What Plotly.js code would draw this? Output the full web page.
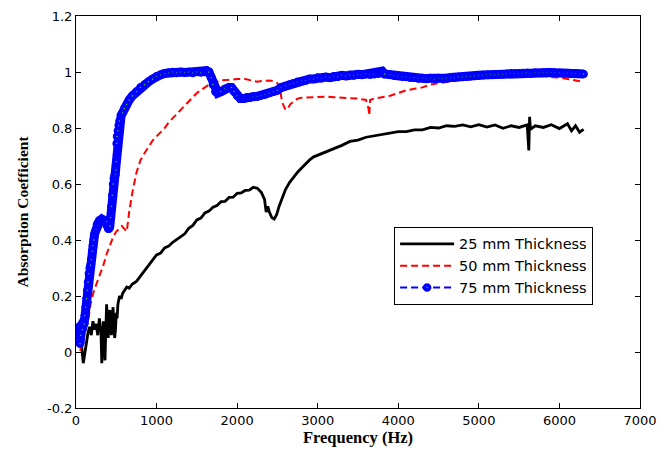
<!DOCTYPE html>
<html>
<head>
<meta charset="utf-8">
<script src="https://cdn.plot.ly/plotly-3.0.1.min.js"></script>
<style>html,body{margin:0;padding:0;background:#fff;}#chart{width:672px;height:452px;}</style>
</head>
<body>
<div id="chart"></div>
<script>
// 25 mm thickness (black, solid)
const freq25 = [50,70,90,110,130,150,170,190,210,230,250,270,290,310,320,330,340,350,360,370,380,390,400,410,420,430,440,450,460,470,480,490,500,510,520,540,560,580,600,630,660,700,750,800,850,900,950,1000,1050,1100,1150,1200,1250,1300,1350,1400,1450,1500,1550,1600,1650,1700,1750,1800,1850,1900,1950,2000,2050,2100,2150,2200,2250,2300,2340,2360,2380,2400,2430,2460,2490,2520,2560,2600,2650,2700,2750,2800,2850,2900,2950,3000,3100,3200,3300,3400,3500,3600,3700,3800,3900,4000,4100,4200,4300,4400,4500,4600,4700,4800,4900,5000,5100,5200,5300,5400,5500,5600,5620,5630,5640,5700,5800,5900,6000,6100,6150,6200,6250,6300];
const abs25 = [0.05,0.02,-0.04,0.0,0.04,0.07,0.09,0.06,0.11,0.08,0.1,0.06,0.12,0.07,-0.04,0.02,0.11,0.03,-0.03,0.08,0.17,0.1,0.05,0.13,0.15,0.09,0.06,0.12,0.16,0.1,0.05,0.08,0.14,0.12,0.17,0.2,0.19,0.21,0.22,0.232,0.228,0.243,0.252,0.272,0.288,0.312,0.328,0.347,0.353,0.372,0.378,0.392,0.402,0.413,0.422,0.442,0.452,0.472,0.478,0.497,0.503,0.517,0.523,0.537,0.538,0.552,0.553,0.567,0.568,0.577,0.578,0.588,0.585,0.57,0.545,0.50,0.52,0.50,0.48,0.475,0.49,0.52,0.55,0.58,0.605,0.625,0.642,0.657,0.672,0.686,0.697,0.703,0.713,0.727,0.738,0.752,0.757,0.767,0.772,0.778,0.782,0.787,0.787,0.793,0.793,0.802,0.80,0.808,0.806,0.811,0.804,0.812,0.803,0.811,0.799,0.808,0.802,0.811,0.72,0.84,0.795,0.808,0.802,0.812,0.798,0.815,0.79,0.808,0.785,0.795];

// 50 mm thickness (red, dashed)
const freq50 = [50,80,110,150,180,214,250,300,340,380,420,460,500,540,570,600,630,660,700,750,800,850,900,950,1000,1050,1100,1150,1200,1250,1300,1350,1400,1450,1500,1550,1600,1650,1700,1750,1800,1900,2000,2100,2200,2250,2300,2400,2450,2500,2530,2560,2600,2630,2660,2700,2750,2800,2900,3000,3100,3200,3300,3400,3500,3600,3630,3640,3650,3700,3800,3900,4000,4100,4200,4300,4400,4500,4600,4700,4800,4900,5000,5200,5400,5600,5800,6000,6100,6200,6300];
const abs50 = [0.005,0.03,0.07,0.11,0.17,0.21,0.24,0.28,0.31,0.35,0.38,0.41,0.43,0.44,0.45,0.44,0.43,0.5,0.57,0.64,0.685,0.71,0.735,0.755,0.77,0.785,0.80,0.82,0.835,0.85,0.865,0.88,0.895,0.91,0.925,0.935,0.945,0.955,0.96,0.965,0.97,0.972,0.975,0.975,0.97,0.965,0.968,0.97,0.968,0.96,0.94,0.89,0.865,0.87,0.885,0.895,0.905,0.908,0.91,0.91,0.912,0.91,0.908,0.905,0.905,0.90,0.87,0.845,0.90,0.905,0.91,0.915,0.925,0.935,0.94,0.945,0.955,0.96,0.965,0.97,0.972,0.975,0.978,0.982,0.985,0.985,0.985,0.98,0.975,0.97,0.965];

// 75 mm thickness (blue, dashed with circle markers)
const freq75 = [40,50,60,70,80,90,100,110,120,130,140,150,160,170,180,190,200,210,220,230,240,250,260,270,280,290,300,320,340,360,380,390,400,410,420,430,440,450,460,470,480,490,495,500,505,510,520,530,540,560,580,600,630,660,700,750,800,850,900,950,1000,1050,1100,1150,1200,1250,1300,1350,1400,1450,1500,1550,1600,1620,1650,1680,1700,1730,1760,1800,1850,1900,1930,1960,2000,2040,2080,2120,2160,2200,2250,2300,2350,2400,2450,2500,2550,2600,2650,2700,2750,2800,2850,2900,2950,3000,3050,3100,3150,3200,3250,3300,3350,3400,3450,3500,3550,3600,3650,3700,3750,3780,3800,3830,3900,3950,4000,4050,4100,4150,4200,4250,4300,4350,4400,4450,4500,4550,4600,4650,4700,4750,4800,4850,4900,4950,5000,5050,5100,5150,5200,5250,5300,5350,5400,5450,5500,5550,5600,5650,5700,5750,5800,5850,5900,5950,6000,6050,6100,6150,6200,6250,6300];
const abs75 = [0.09,0.03,0.06,0.1,0.08,0.11,0.1,0.13,0.16,0.19,0.22,0.25,0.28,0.3,0.31,0.33,0.36,0.38,0.4,0.42,0.43,0.44,0.455,0.46,0.465,0.47,0.47,0.475,0.47,0.47,0.465,0.45,0.44,0.44,0.45,0.48,0.52,0.56,0.6,0.62,0.63,0.635,0.65,0.68,0.745,0.77,0.79,0.81,0.825,0.845,0.855,0.87,0.885,0.9,0.915,0.93,0.945,0.955,0.965,0.975,0.985,0.99,0.995,0.998,1.0,0.997,1.0,0.998,1.0,0.997,1.0,0.998,1.0,1.005,1.0,0.98,0.955,0.93,0.925,0.93,0.94,0.945,0.945,0.93,0.915,0.905,0.905,0.91,0.908,0.912,0.913,0.917,0.92,0.925,0.93,0.935,0.945,0.95,0.955,0.96,0.965,0.968,0.97,0.975,0.975,0.98,0.978,0.982,0.98,0.985,0.983,0.988,0.986,0.99,0.988,0.992,0.99,0.993,0.99,0.992,0.994,0.997,1.003,0.993,0.99,0.987,0.985,0.983,0.982,0.98,0.98,0.977,0.978,0.976,0.978,0.976,0.978,0.977,0.978,0.98,0.98,0.982,0.982,0.984,0.985,0.986,0.988,0.989,0.99,0.99,0.99,0.992,0.992,0.994,0.995,0.995,0.995,0.996,0.997,0.996,0.998,0.997,0.998,0.999,0.998,0.997,0.997,0.996,0.996,0.995,0.995,0.994,0.993,0.992,0.99];

const legendNames = ['25 mm Thickness', '50 mm Thickness', '75 mm Thickness'];
const yTickVals = [-0.2, 0, 0.2, 0.4, 0.6, 0.8, 1, 1.2];
const yTickText = ['-0.2', '0', '0.2', '0.4', '0.6', '0.8', '1', '1.2'];
const xTickVals = [0, 1000, 2000, 3000, 4000, 5000, 6000, 7000];
const xTickText = ['0', '1000', '2000', '3000', '4000', '5000', '6000', '7000'];

const traces = [
  {x: freq25, y: abs25, name: legendNames[0], type: 'scatter', mode: 'lines',
   line: {color: '#000000', width: 2.8}},
  {x: freq50, y: abs50, name: legendNames[1], type: 'scatter', mode: 'lines',
   line: {color: '#ff0000', width: 2, dash: '7px,4px'}},
  // dense marker band of the 75 mm series (the overlapping markers form a solid band)
  {x: freq75, y: abs75, name: legendNames[2], type: 'scatter', mode: 'lines', showlegend: false,
   hoverinfo: 'skip', line: {color: '#0000ff', width: 9}},
  {x: freq75, y: abs75, name: legendNames[2], type: 'scatter', mode: 'lines+markers',
   line: {color: '#0000ff', width: 2, dash: '7px,4px'},
   marker: {symbol: 'circle', size: 5, color: '#33dd33', line: {color: '#0000ff', width: 3.6}}}
];

const tickFont = {family: 'DejaVu Sans, sans-serif', size: 13, color: '#000'};
const titleFontX = {family: 'Liberation Serif, Times New Roman, serif', size: 16.5, color: '#000', weight: 'bold'};
const titleFontY = {family: 'Liberation Serif, Times New Roman, serif', size: 15.5, color: '#000', weight: 'bold'};

const layout = {
  width: 672, height: 452,
  margin: {l: 76, r: 32, t: 16, b: 44, pad: 0},
  paper_bgcolor: '#fff', plot_bgcolor: '#fff',
  showlegend: true,
  legend: {x: 0.564, y: 0.462, xanchor: 'left', yanchor: 'top',
    bgcolor: '#fff', bordercolor: '#000', borderwidth: 1,
    font: {family: 'DejaVu Sans, sans-serif', size: 14.5, color: '#000'},
    itemwidth: 54, tracegroupgap: 0},
  xaxis: {range: [0, 7000], tickvals: xTickVals, ticktext: xTickText,
    ticks: 'inside', ticklen: 5, tickcolor: '#000', showline: true, linecolor: '#000', linewidth: 1,
    mirror: 'ticks', showgrid: false, zeroline: false, tickfont: tickFont,
    title: {text: 'Frequency (Hz)', font: titleFontX, standoff: 2}, automargin: false},
  yaxis: {range: [-0.2, 1.2], tickvals: yTickVals, ticktext: yTickText,
    ticks: 'inside', ticklen: 5, tickcolor: '#000', showline: true, linecolor: '#000', linewidth: 1,
    mirror: 'ticks', showgrid: false, zeroline: false, tickfont: tickFont,
    title: {text: 'Absorption Coefficient', font: titleFontY, standoff: 14}, automargin: false}
};

Plotly.newPlot('chart', traces, layout, {displayModeBar: false, staticPlot: true});
</script>
</body>
</html>
